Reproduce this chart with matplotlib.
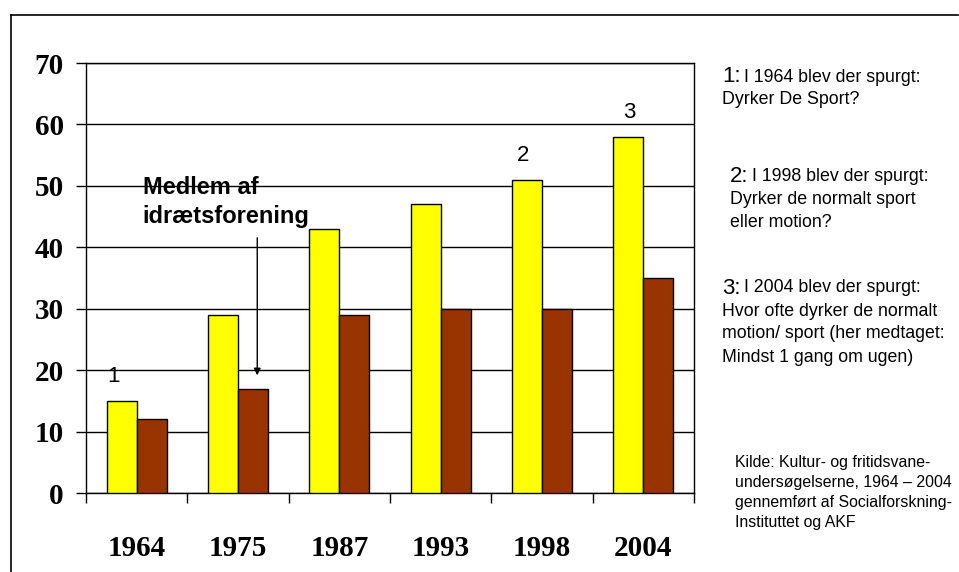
import matplotlib
matplotlib.use("Agg")
import matplotlib.pyplot as plt
from matplotlib.lines import Line2D
import numpy as np

years = ["1964", "1975", "1987", "1993", "1998", "2004"]
sport = [15, 29, 43, 47, 51, 58]
member = [12, 17, 29, 30, 30, 35]
y_ticks = [0, 10, 20, 30, 40, 50, 60, 70]

W, H = 959, 572
fig = plt.figure(figsize=(W / 100, H / 100), dpi=100)
fig.patch.set_facecolor("white")

def fx(px):
    return px / W

def fy(py):
    return 1 - py / H

# outer frame (left and top visible)
fig.add_artist(Line2D([fx(11), fx(11)], [fy(15), 0], color="black", lw=1.2))
fig.add_artist(Line2D([fx(11), fx(958)], [fy(15), fy(15)], color="black", lw=1.2))

ax = fig.add_axes([fx(86), fy(493), fx(694) - fx(86), fy(63) - fy(493)])
x = np.arange(len(years))
bw = 0.296
ax.bar(x - bw / 2, sport, bw, color="#FFFF00", edgecolor="black", lw=1, zorder=3)
ax.bar(x + bw / 2, member, bw, color="#993300", edgecolor="black", lw=1, zorder=3)

ax.set_xlim(-0.5, len(years) - 0.5)
ax.set_ylim(0, 70)
ax.set_yticks(y_ticks)
ax.set_yticklabels([str(v) for v in y_ticks], fontfamily="Liberation Serif",
                   fontweight="bold", fontsize=21)
ax.tick_params(axis="y", length=7, width=1, pad=9, color="black")
ax.yaxis.grid(True, color="black", lw=1, zorder=0)
ax.set_axisbelow(True)

ax.set_xticks(x)
ax.set_xticklabels(years, fontfamily="Liberation Serif", fontweight="bold", fontsize=21)
ax.tick_params(axis="x", which="major", length=0, pad=30)
ax.set_xticks(np.arange(-0.5, len(years), 1), minor=True)
ax.tick_params(axis="x", which="minor", length=7, width=1, direction="out", color="black")
for s in ax.spines.values():
    s.set_color("black")
    s.set_linewidth(1)

# footnote numbers above bars
ax.text(-0.23, 19.0, "1", fontfamily="Liberation Sans", fontsize=16, ha="center", va="center")
ax.text(3.81, 54.9, "2", fontfamily="Liberation Sans", fontsize=16, ha="center", va="center")
ax.text(4.86, 62.0, "3", fontfamily="Liberation Sans", fontsize=16, ha="center", va="center")

# annotation
ax.text(0.06, 48.6, "Medlem af", fontfamily="Liberation Sans",
        fontweight="bold", fontsize=17, ha="left", va="baseline", zorder=5)
ax.text(0.06, 43.9, "idrætsforening", fontfamily="Liberation Sans",
        fontweight="bold", fontsize=17, ha="left", va="baseline", zorder=5)
ax.annotate("", xy=(1.19, 18.7), xytext=(1.19, 42.0),
            arrowprops=dict(arrowstyle="-|>", color="black", lw=1,
                            mutation_scale=10), zorder=5)

# right side notes
sans = "Liberation Sans"
def note(px, py, num, lines):
    t = fig.text(fx(px), fy(py), num, fontfamily=sans, fontsize=16, ha="left", va="center")
    fig.canvas.draw()
    bb = t.get_window_extent()
    fig.text(bb.x1 / W + fx(3), fy(py), lines[0], fontfamily=sans, fontsize=12.8,
             ha="left", va="center")
    for i, ln in enumerate(lines[1:]):
        fig.text(fx(px), fy(py + 23 * (i + 1)), ln, fontfamily=sans, fontsize=12.8,
                 ha="left", va="center")

note(722, 77, "1:", ["I 1964 blev der spurgt:", "Dyrker De Sport?"])
note(730, 177, "2:", ["I 1998 blev der spurgt:", "Dyrker de normalt sport", "eller motion?"])
note(722, 288, "3:", ["I 2004 blev der spurgt:", "Hvor ofte dyrker de normalt",
                      "motion/ sport (her medtaget:", "Mindst 1 gang om ugen)"])

kilde = ["Kilde: Kultur- og fritidsvane-", "undersøgelserne, 1964 – 2004",
         "gennemført af Socialforskning-", "Instituttet og AKF"]
for i, ln in enumerate(kilde):
    fig.text(fx(735), fy(463 + 19.7 * i), ln, fontfamily=sans, fontsize=11.4,
             ha="left", va="center")

fig.savefig("out.png", dpi=100, facecolor="white")
